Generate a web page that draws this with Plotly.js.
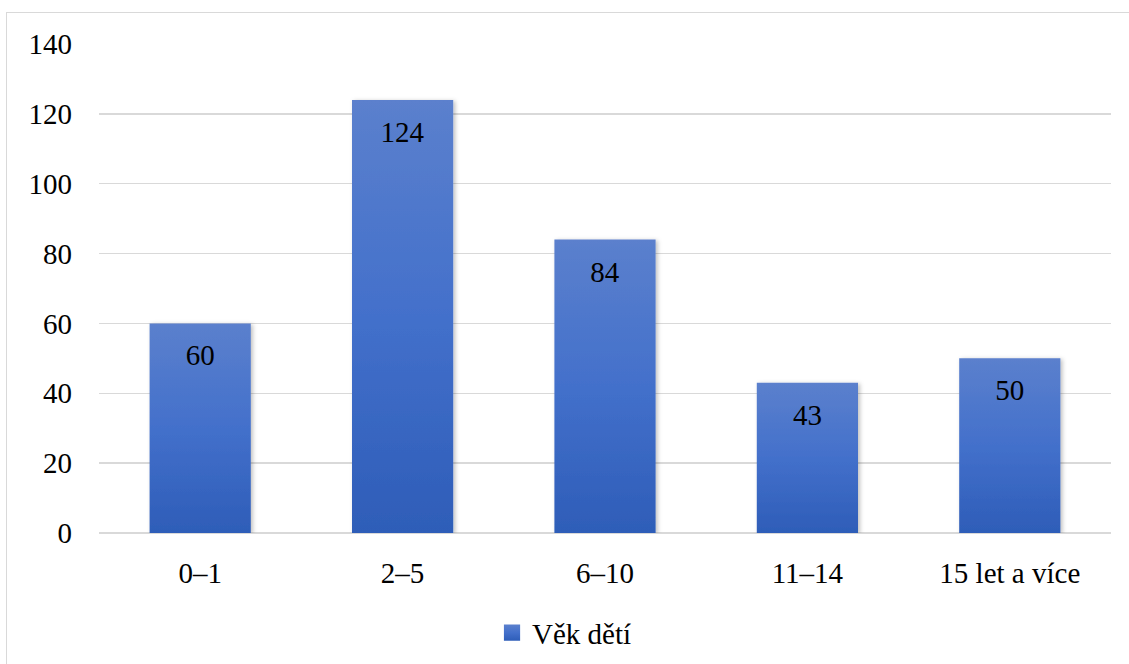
<!DOCTYPE html>
<html>
<head>
<meta charset="utf-8">
<script src="https://cdn.plot.ly/plotly-3.0.1.min.js"></script>
<style>
  html, body { margin: 0; padding: 0; background: #fff; }
  #wrap { position: relative; width: 1129px; height: 664px; overflow: hidden; }
  #frame { position: absolute; left: 6px; top: 12px; width: 1200px; height: 700px; border: 1.5px solid #d9d9d9; box-sizing: border-box; }
  #chart { position: absolute; left: 0; top: 0; width: 1129px; height: 664px; }
</style>
</head>
<body>
<div id="wrap">
  <div id="frame"></div>
  <div id="chart"></div>
</div>
<script>
const categories = ["0–1", "2–5", "6–10", "11–14", "15 let a více"];
const values = [60, 124, 84, 43, 50];
const seriesName = "Věk dětí";
const yTicks = [0, 20, 40, 60, 80, 100, 120, 140];

const FONT = "Liberation Serif";

const trace = {
  type: "bar",
  x: categories,
  y: values,
  name: seriesName,
  width: 0.5,
  marker: { color: "#4472c4", line: { width: 0 } },
  text: values.map(String),
  textposition: "inside",
  insidetextanchor: "end",
  textangle: 0,
  insidetextfont: { family: FONT, size: 29, color: "#000" },
  hoverinfo: "none",
  showlegend: true
};

const layout = {
  width: 1129,
  height: 664,
  paper_bgcolor: "rgba(0,0,0,0)",
  plot_bgcolor: "rgba(0,0,0,0)",
  margin: { l: 99, r: 18, t: 44, b: 131 },
  font: { family: FONT, size: 29, color: "#000" },
  xaxis: {
    type: "category",
    showgrid: false,
    zeroline: false,
    showline: false,
    ticks: "",
    automargin: false,
    ticklabelstandoff: 20,
    tickfont: { family: FONT, size: 29, color: "#000" }
  },
  yaxis: {
    range: [0, 140],
    tickvals: yTicks,
    ticktext: yTicks.map(String),
    showgrid: true,
    gridcolor: "#d9d9d9",
    gridwidth: 1.5,
    zeroline: true,
    zerolinecolor: "#d9d9d9",
    zerolinewidth: 1.5,
    showline: false,
    ticks: "",
    automargin: false,
    ticklabelstandoff: 26,
    tickfont: { family: FONT, size: 29, color: "#000" }
  },
  showlegend: true,
  legend: {
    orientation: "h",
    x: 0.46,
    xanchor: "center",
    xref: "paper",
    yref: "container",
    y: 0.047,
    yanchor: "middle",
    font: { family: FONT, size: 29, color: "#000" },
    itemwidth: 30
  },
  bargap: 0.5
};

Plotly.newPlot("chart", [trace], layout, { staticPlot: true, displayModeBar: false }).then(function (gd) {
  const svg = gd.querySelector("svg.main-svg");
  const ns = "http://www.w3.org/2000/svg";
  let defs = svg.querySelector("defs");
  if (!defs) { defs = document.createElementNS(ns, "defs"); svg.insertBefore(defs, svg.firstChild); }
  const grad = document.createElementNS(ns, "linearGradient");
  grad.setAttribute("id", "barGrad");
  grad.setAttribute("x1", "0"); grad.setAttribute("y1", "0");
  grad.setAttribute("x2", "0"); grad.setAttribute("y2", "1");
  [["0", "#5b80cd"], ["0.5", "#4370cb"], ["1", "#2e5db8"]].forEach(function (s) {
    const st = document.createElementNS(ns, "stop");
    st.setAttribute("offset", s[0]);
    st.setAttribute("stop-color", s[1]);
    grad.appendChild(st);
  });
  defs.appendChild(grad);
  const filt = document.createElementNS(ns, "filter");
  filt.setAttribute("id", "barShadow");
  filt.setAttribute("x", "-20%"); filt.setAttribute("y", "-20%");
  filt.setAttribute("width", "140%"); filt.setAttribute("height", "140%");
  const ds = document.createElementNS(ns, "feDropShadow");
  ds.setAttribute("dx", "2"); ds.setAttribute("dy", "1");
  ds.setAttribute("stdDeviation", "2");
  ds.setAttribute("flood-color", "#000"); ds.setAttribute("flood-opacity", "0.25");
  filt.appendChild(ds);
  defs.appendChild(filt);
  gd.querySelectorAll(".barlayer .point path").forEach(function (p) {
    p.style.fill = "url(#barGrad)";
    p.setAttribute("filter", "url(#barShadow)");
  });
  gd.querySelectorAll(".barlayer .point text").forEach(function (t) {
    const tr = t.getAttribute("transform") || "";
    t.setAttribute("transform", "translate(0,13) " + tr);
  });
  gd.querySelectorAll(".legend .legendpoints path").forEach(function (p) {
    p.style.fill = "url(#barGrad)";
    const tr = p.getAttribute("transform") || "";
    p.setAttribute("transform", tr + " scale(1.35)");
  });
});
</script>
</body>
</html>
